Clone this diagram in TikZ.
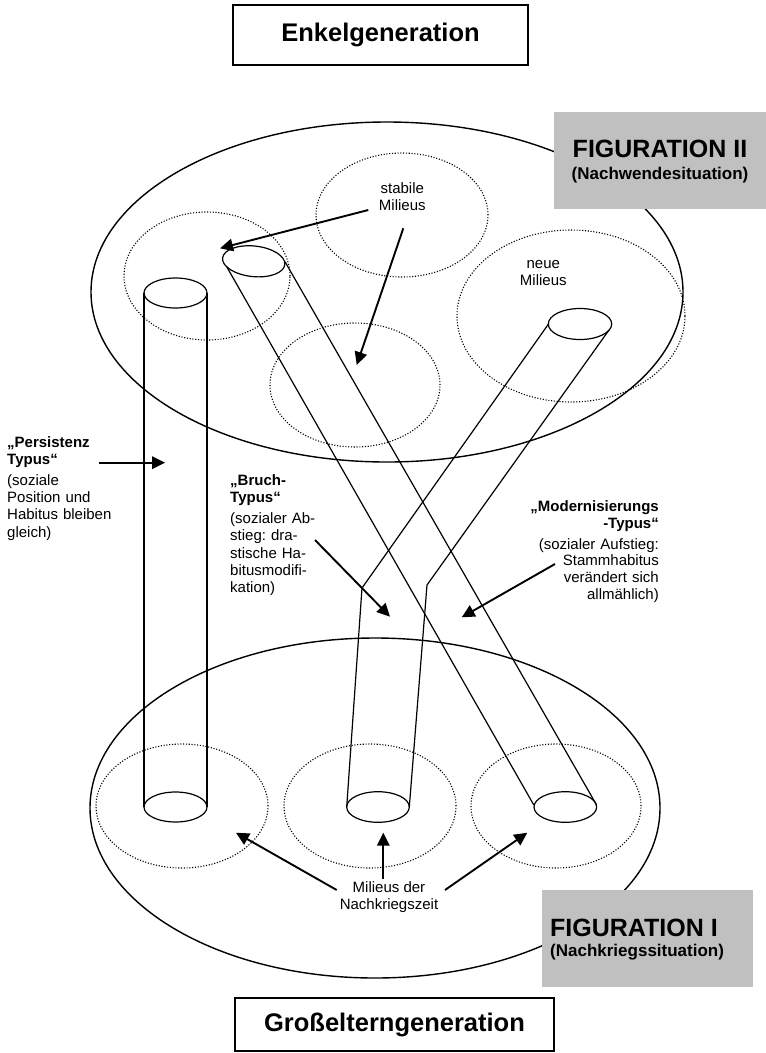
\documentclass[tikz,border=0pt]{standalone}
\usepackage{fontspec}
\setmainfont{Liberation Sans}
\usetikzlibrary{arrows.meta}
\definecolor{figgrey}{HTML}{C0C0C0}
\frenchspacing
\begin{document}
\begin{tikzpicture}[x=1pt,y=-1pt,
  genbox/.style={draw, line width=1.3pt, inner sep=0pt, font=\fontsize{25.5}{30}\selectfont\bfseries},
  greybox/.style={fill=figgrey, draw=none, inner sep=0pt},
  figtitle/.style={inner sep=0pt, font=\fontsize{25}{30}\selectfont\bfseries},
  figsub/.style={inner sep=0pt, font=\fontsize{17}{20}\selectfont\bfseries},
  rim/.style={line width=1.4pt},
  tube/.style={line width=1.2pt},
  milieu/.style={line width=1.1pt, dash pattern=on 1.1pt off 1.7pt},
  pointer/.style={line width=1.9pt, -{Triangle[length=13pt,width=12.5pt]}},
  body/.style={inner sep=0pt, font=\fontsize{15}{17.3}\selectfont},
  label/.style={inner sep=0pt, align=center, font=\fontsize{15}{17}\selectfont}]
\useasboundingbox (0,0) rectangle (766,1053);

% the two figurations
\draw[rim] (387,292) ellipse [x radius=296pt, y radius=170pt];
\draw[rim] (375,808) ellipse [x radius=285pt, y radius=170pt];

% milieus of the grandchildren (top)
\draw[milieu] (207,276) ellipse [x radius=83pt, y radius=64pt];
\draw[milieu] (402,215) ellipse [x radius=86pt, y radius=62pt];
\draw[milieu] (355,385) ellipse [x radius=85pt, y radius=62pt];
\draw[milieu] (571,316) ellipse [x radius=114pt, y radius=86pt];

% post-war milieus (bottom)
\draw[milieu] (182,806) ellipse [x radius=86pt, y radius=62pt];
\draw[milieu] (370,806) ellipse [x radius=86pt, y radius=62pt];
\draw[milieu] (556,806) ellipse [x radius=85pt, y radius=62pt];

% persistence tube
\draw[tube] (175.5,293) ellipse [x radius=31.5pt, y radius=15pt];
\draw[tube] (175.5,807) ellipse [x radius=31.5pt, y radius=15pt];
\draw[tube] (144,293) -- (144,807);
\draw[tube] (207,293) -- (207,807);

% break tube
\draw[tube, rotate around={-6:(253.7,261.3)}] (253.7,261.3) ellipse [x radius=31.3pt, y radius=15.3pt];
\draw[tube] (565.3,807) ellipse [x radius=31.3pt, y radius=15.3pt];
\draw[tube] (226.7,266.7) -- (533.8,805);
\draw[tube] (285,261.7) -- (596.6,805);

% modernisation tube
\draw[tube] (580,324) ellipse [x radius=31.7pt, y radius=15.5pt];
\draw[tube] (378,807) ellipse [x radius=31.3pt, y radius=15.3pt];
\draw[tube] (548.5,324) -- (362,588) -- (346.7,807);
\draw[tube] (609,330) -- (427,585) -- (409.3,807);

% generation boxes
\node[genbox, minimum width=295pt, minimum height=60pt] (enkel) at (380.5,35) {Enkelgeneration};
\node[genbox, minimum width=319pt, minimum height=53pt] (gross) at (394.5,1024.5) {Großelterngeneration};

% figuration labels
\node[greybox, minimum width=212pt, minimum height=97pt] (fig2box) at (660,160.5) {};
\node[figtitle, anchor=base] (fig2title) at (660,157) {FIGURATION II};
\node[figsub, anchor=base] (fig2sub) at (660,179) {(Nachwendesituation)};

\node[greybox, minimum width=211pt, minimum height=97pt] (fig1box) at (647.5,938.5) {};
\node[figtitle, anchor=base west] (fig1title) at (550,936) {FIGURATION I};
\node[figsub, anchor=base west] (fig1sub) at (550,956) {(Nachkriegssituation)};

% milieu labels
\node[label] (stabil) at (402.3,196.7) {stabile\\Milieus};
\node[label] (neu) at (543.3,273.4) {neue\\Milieus};
\node[label] (nachkrieg) at (389,897.5) {Milieus der\\Nachkriegszeit};

% type descriptions
\node[body, text width=130pt, align=left, anchor=base west] (persist) at (7,447)
  {\textbf{„Persistenz}\\\textbf{Typus“}\\[3.5pt](soziale\\Position und\\Habitus bleiben\\gleich)};
\node[body, text width=130pt, align=left, anchor=base west] (bruch) at (230,485.5)
  {\textbf{„Bruch-}\\\textbf{Typus“}\\[3.5pt](sozialer Ab-\\stieg: dra-\\stische Ha-\\bitusmodifi-\\kation)};
\node[body, font=\fontsize{15}{16.6}\selectfont, text width=160pt, align=right, anchor=base east] (modern) at (659,511.5)
  {\textbf{„Modernisierungs}\\\textbf{-Typus“}\\[4.5pt](sozialer Aufstieg:\\Stammhabitus\\verändert sich\\allmählich)};

% arrow end points
\coordinate (stabA) at (368.3,210);
\coordinate (stabAtip) at (220,248.3);
\coordinate (stabB) at (403.3,228.3);
\coordinate (stabBtip) at (356.7,365);
\coordinate (persA) at (99.3,462.7);
\coordinate (persAtip) at (165,462.7);
\coordinate (bruchA) at (315,540);
\coordinate (bruchAtip) at (390,616.7);
\coordinate (modA) at (555,564);
\coordinate (modAtip) at (461.7,617.3);
\coordinate (nkL) at (336.7,890);
\coordinate (nkLtip) at (236,832.7);
\coordinate (nkM) at (383.3,879.3);
\coordinate (nkMtip) at (383.3,832.7);
\coordinate (nkR) at (445,890);
\coordinate (nkRtip) at (527.3,832.7);

\draw[pointer] (stabA) -- (stabAtip);
\draw[pointer] (stabB) -- (stabBtip);
\draw[pointer] (persA) -- (persAtip);
\draw[pointer] (bruchA) -- (bruchAtip);
\draw[pointer] (modA) -- (modAtip);
\draw[pointer] (nkL) -- (nkLtip);
\draw[pointer] (nkM) -- (nkMtip);
\draw[pointer] (nkR) -- (nkRtip);
\end{tikzpicture}
\end{document}
